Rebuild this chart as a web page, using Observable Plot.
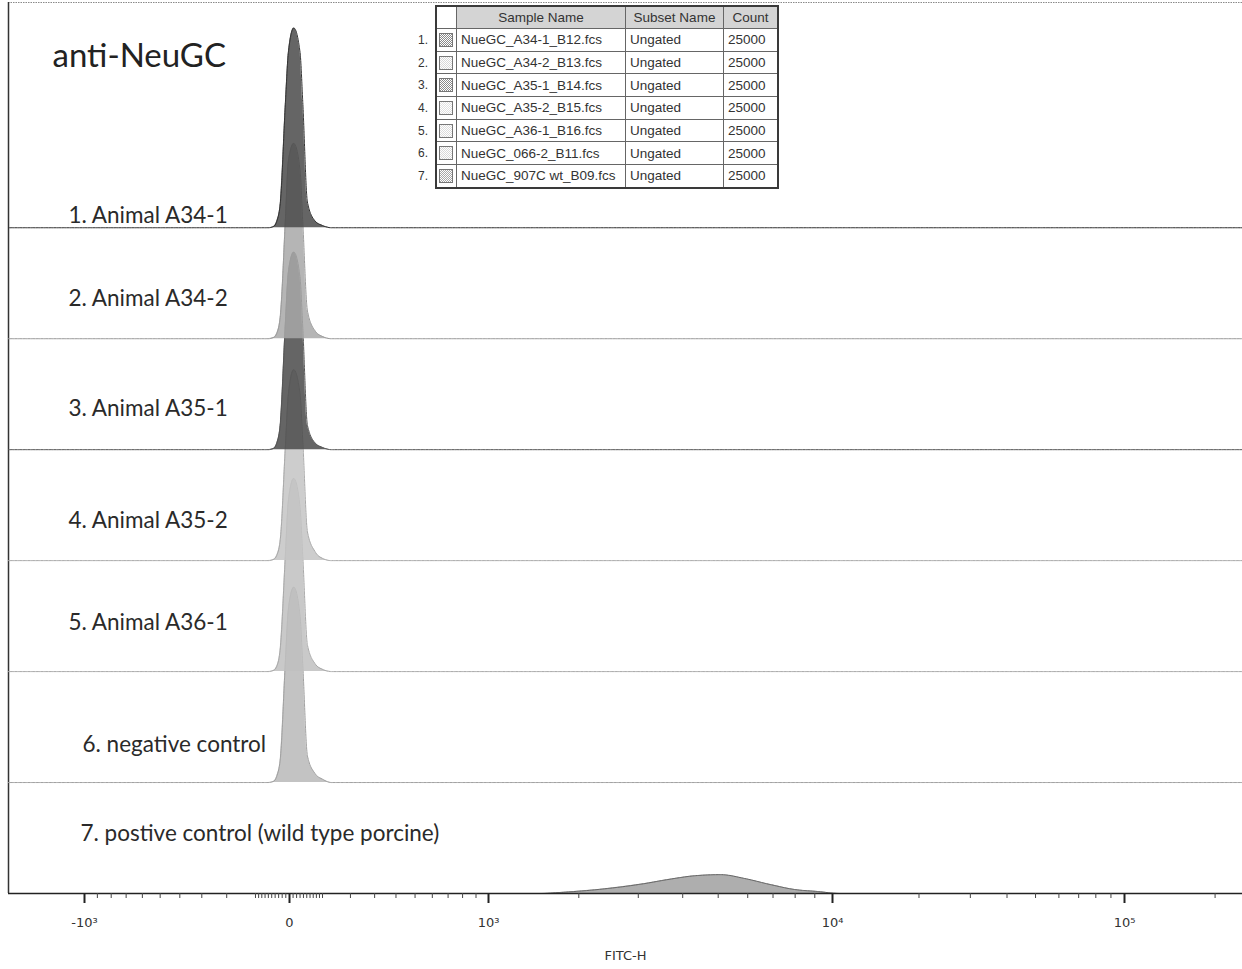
<!DOCTYPE html>
<html>
<head>
<meta charset="utf-8">
<script src="https://cdn.jsdelivr.net/npm/d3@7"></script>
<script src="https://cdn.jsdelivr.net/npm/@observablehq/plot@0.6"></script>
<style>
  html, body { margin: 0; padding: 0; background: #fff; overflow: hidden; }
  #wrap { position: relative; width: 1242px; height: 969px; }
  #samples { position: absolute; left: 435px; top: 5px; border: 2px solid #3a3a3a; background: #fff; }
  #samples table { border-collapse: collapse; font: 13.5px "Liberation Sans", sans-serif; color: #333; table-layout: fixed; }
  #samples th, #samples td { border: 1px solid #666; padding: 0 0 0 4px; white-space: nowrap; overflow: hidden; font-weight: normal; text-align: left; }
  #samples th { height: 21px; background: #d4d4d4; text-align: center; padding: 0; }
  #samples th.sw { background: #fff; }
  #samples td { height: 21.7px; }
  #samples tr:first-child > * { border-top: none; }
  #samples tr:last-child > * { border-bottom: none; }
  #samples tr > *:first-child { border-left: none; }
  #samples tr > *:last-child { border-right: none; }
  #samples td.sw { padding: 0 2px; }
  #samples .chip { width: 12px; height: 12px; border: 1px solid #777; }
  #rownums { position: absolute; left: 402px; top: 29px; font: 12px "Liberation Sans", sans-serif; color: #333; text-align: right; width: 26px; }
  #rownums div { height: 22.7px; line-height: 22.7px; }
</style>
</head>
<body>
<div id="wrap"></div>
<script>
// ---- samples ----
const rowLabels = [
  "1. Animal A34-1",
  "2. Animal A34-2",
  "3. Animal A35-1",
  "4. Animal A35-2",
  "5. Animal A36-1",
  "6. negative control",
  "7. postive control (wild type porcine)"
];
const sampleNames = [
  "NueGC_A34-1_B12.fcs",
  "NueGC_A34-2_B13.fcs",
  "NueGC_A35-1_B14.fcs",
  "NueGC_A35-2_B15.fcs",
  "NueGC_A36-1_B16.fcs",
  "NueGC_066-2_B11.fcs",
  "NueGC_907C wt_B09.fcs"
];
const subsetNames = ["Ungated", "Ungated", "Ungated", "Ungated", "Ungated", "Ungated", "Ungated"];
const eventCounts = [25000, 25000, 25000, 25000, 25000, 25000, 25000];

// ---- FITC-H axis ----
const fitcTicks = [-1000, 0, 1000, 10000, 100000];
const fitcTickLabels = ["-10³", "0", "10³", "10⁴", "10⁵"];
const fitcMinorTicks = [
  -900, -800, -700, -600, -500, -400, -300, -200, -100,
  -90, -80, -70, -60, -50, -40, -30, -20, -10,
  10, 20, 30, 40, 50, 60, 70, 80, 90,
  100, 200, 300, 400, 500, 600, 700, 800, 900,
  2000, 3000, 4000, 5000, 6000, 7000, 8000, 9000,
  20000, 30000, 40000, 50000, 60000, 70000, 80000, 90000,
  200000
];

// ---- histograms (FITC-H bin value, count) ----
const nearZeroBins = [-1800, -60, -45, -35, -25, -11, -3, 12, 30, 38, 52, 76, 100, 130, 262144];
const countsA34_1 = [0, 0, 1, 6, 23, 113, 158, 180, 158, 113, 23, 6, 2, 0, 0];
const countsA34_2 = [0, 0, 1, 5, 21, 108, 160, 176, 152, 105, 25, 7, 2, 0, 0];
const countsA35_1 = [0, 0, 1, 6, 24, 115, 160, 178, 155, 110, 22, 6, 2, 0, 0];
const countsA35_2 = [0, 0, 1, 5, 20, 104, 150, 172, 150, 108, 26, 8, 2, 0, 0];
const countsA36_1 = [0, 0, 1, 5, 22, 106, 154, 174, 148, 104, 24, 7, 2, 0, 0];
const countsNeg = [0, 0, 1, 6, 22, 110, 156, 176, 150, 106, 24, 8, 3, 0, 0];
const wildTypeBins = [-1800, 1500, 1764, 2290, 3136, 3640, 4320, 5083, 5890, 6900, 7975, 9150, 10600, 262144];
const countsWildType = [0, 0, 1, 3.6, 9, 12.6, 16, 17, 13.5, 8, 3.6, 1.8, 0, 0];

const seriesBins = [nearZeroBins, nearZeroBins, nearZeroBins, nearZeroBins, nearZeroBins, nearZeroBins, wildTypeBins];
const seriesCounts = [countsA34_1, countsA34_2, countsA35_1, countsA35_2, countsA36_1, countsNeg, countsWildType];

// ---- look ----
const fills   = ["#4a4a4a", "#a8a8a8", "#4a4a4a", "#c4c4c4", "#c0c0c0", "#b8b8b8", "#a0a0a0"];
const strokes = ["#333",    "#9a9a9a", "#555",    "#a8a8a8", "#a8a8a8", "#9f9f9f", "#666"];
const chips   = ["#8a8a8a", "#d8d8d8", "#8a8a8a", "#e0e0e0", "#dcdcdc", "#d8d8d8", "#a8a8a8"];
const rowStep = 100;                       // vertical offset between stacked histograms (count units)
const labelLift = [12, 40, 41, 40, 49, 38, 60];
const labelIndent = [60, 60, 60, 60, 60, 74, 72];

const nRows = rowLabels.length;
const rows = seriesCounts.map((counts, i) => {
  const base = (nRows - 1 - i) * rowStep;
  return counts.map((c, j) => ({x: seriesBins[i][j], base, top: base + c, sample: sampleNames[i]}));
});

const W = 1242, H = 969;
const marks = [];

// frame edges: dotted top, solid left
marks.push((index, scales, values, dims) => {
  const g = d3.create("svg:g");
  g.append("line")
    .attr("x1", dims.marginLeft).attr("x2", dims.width - dims.marginRight)
    .attr("y1", dims.marginTop + 0.5).attr("y2", dims.marginTop + 0.5)
    .attr("stroke", "#8a8a8a").attr("stroke-dasharray", "1.5 1");
  g.append("line")
    .attr("x1", dims.marginLeft + 0.5).attr("x2", dims.marginLeft + 0.5)
    .attr("y1", dims.marginTop).attr("y2", dims.height - dims.marginBottom)
    .attr("stroke", "#333").attr("stroke-width", 1.5);
  return g.node();
});

// histograms, bottom row first so upper rows overlay lower ones
for (let i = nRows - 1; i >= 0; i--) {
  marks.push(Plot.areaY(rows[i], {x: "x", y1: "base", y2: "top", fill: fills[i], fillOpacity: 0.85, curve: "monotone-x"}));
  marks.push(Plot.lineY(rows[i], {x: "x", y: "top", stroke: strokes[i], strokeWidth: 1, strokeDasharray: "2 0.6", curve: "monotone-x"}));
}

// row labels
rowLabels.forEach((label, i) => {
  marks.push(Plot.text([label], {
    frameAnchor: "left", y: [(nRows - 1 - i) * rowStep], dx: labelIndent[i], dy: -labelLift[i],
    textAnchor: "start", lineAnchor: "middle", fontSize: 22.5, fontFamily: "Lato", fill: "#2a2a2a"
  }));
});

// stain title
marks.push(Plot.text(["anti-NeuGC"], {
  frameAnchor: "top-left", dx: 44, dy: 54, lineAnchor: "middle", textAnchor: "start",
  fontSize: 33, fontFamily: "Lato", fill: "#222"
}));

// axis
marks.push(Plot.ruleY([0], {stroke: "#222", strokeWidth: 1.5}));
marks.push(Plot.axisX({ticks: fitcMinorTicks, tickSize: 5, tickFormat: () => "", label: null, stroke: "#444"}));
marks.push(Plot.axisX({
  ticks: fitcTicks, tickSize: 10, strokeWidth: 2, stroke: "#222",
  tickFormat: d => fitcTickLabels[fitcTicks.indexOf(d)], tickPadding: 14, fontSize: 13,
  fontFamily: "DejaVu Sans", fill: "#333",
  label: "FITC-H", labelAnchor: "center", labelArrow: "none", labelOffset: 66
}));

const chart = Plot.plot({
  width: W, height: H,
  marginLeft: 8, marginRight: 0, marginTop: 2, marginBottom: 76,
  style: {fontFamily: "Liberation Sans", fontSize: "12px", color: "#333", background: "#fff"},
  x: {
    type: "symlog", constant: 500,
    domain: [-1800, -1000, 0, 1000, 10000, 100000, 262144],
    range:  [8, 84, 289, 488, 832, 1124, 1250]
  },
  y: {domain: [0, 803], range: [H - 76, 2], axis: null},
  marks
});

const wrap = document.getElementById("wrap");
wrap.appendChild(chart);

// sample key table
const key = document.createElement("div");
key.id = "samples";
const table = document.createElement("table");
const colWidths = [19, 168, 97, 53];
const head = table.insertRow();
["", "Sample Name", "Subset Name", "Count"].forEach((t, k) => {
  const th = document.createElement("th");
  th.textContent = t;
  th.style.width = colWidths[k] + "px";
  if (k === 0) th.className = "sw";
  head.appendChild(th);
});
sampleNames.forEach((name, i) => {
  const tr = table.insertRow();
  const sw = tr.insertCell(); sw.className = "sw";
  const chip = document.createElement("div"); chip.className = "chip";
  chip.style.background = `repeating-conic-gradient(${chips[i]} 0 25%, #fff 0 50%) 0 0 / 2px 2px`;
  sw.appendChild(chip);
  tr.insertCell().textContent = name;
  tr.insertCell().textContent = subsetNames[i];
  tr.insertCell().textContent = eventCounts[i];
});
key.appendChild(table);
wrap.appendChild(key);

const nums = document.createElement("div");
nums.id = "rownums";
sampleNames.forEach((_, i) => {
  const d = document.createElement("div");
  d.textContent = (i + 1) + ".";
  nums.appendChild(d);
});
wrap.appendChild(nums);
</script>
</body>
</html>
